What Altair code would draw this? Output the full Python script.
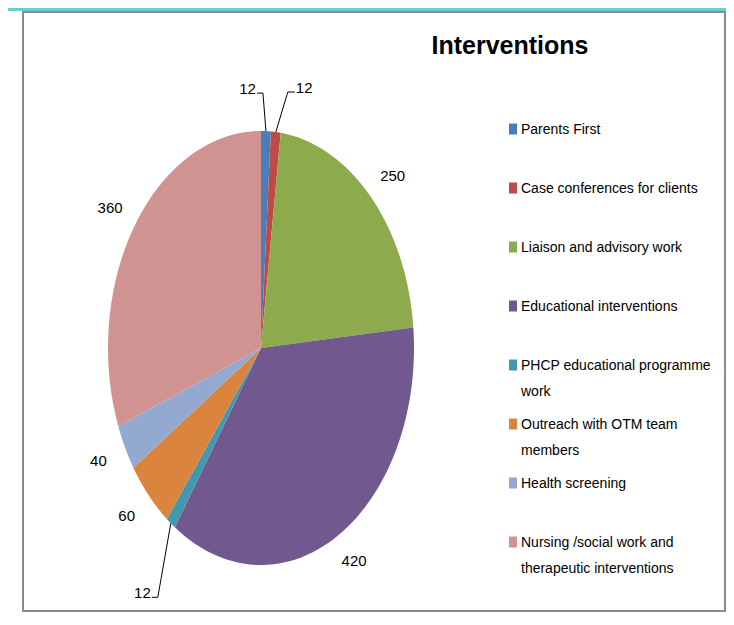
import altair as alt
import pandas as pd

# ---------------- data ----------------
categories = [
    "Parents First",
    "Case conferences for clients",
    "Liaison and advisory work",
    "Educational interventions",
    "PHCP educational programme work",
    "Outreach with OTM team members",
    "Health screening",
    "Nursing /social work and therapeutic interventions",
]
values = [12, 12, 250, 420, 12, 60, 40, 360]
legend_labels = [
    "Parents First",
    "Case conferences for clients",
    "Liaison and advisory work",
    "Educational interventions",
    "PHCP educational programme|work",
    "Outreach with OTM team|members",
    "Health screening",
    "Nursing /social work and|therapeutic interventions",
]
colors = ["#4A7EBB", "#BE4B48", "#8DAA4C", "#71588F", "#4198AF", "#DB843D", "#93A9CF", "#D19392"]

# leader-line styling for the thin slices (pixel offsets: elbow dx/dy, stub length)
leader_cats = ["Parents First", "Case conferences for clients", "PHCP educational programme work"]
leader_ex = [-3, 12, -13]
leader_ey = [-38, -40, 74]
leader_sx = [-6, 7, -6]

# ---------------- layout ----------------
W, H = 718, 605
CX, CY, RX, RY = 253, 340, 153, 217
LABEL_GAP = 30
FONT = "Liberation Sans, Arial, sans-serif"
FS = 15
LEG_FS = 14

df = pd.DataFrame({"idx": list(range(len(categories))), "category": categories,
                   "value": values, "label": legend_labels})
nudge = pd.DataFrame({"category": leader_cats, "ex": leader_ex, "ey": leader_ey, "sx": leader_sx})

xs = alt.Scale(domain=[-1, 1], range=[CX - RX, CX + RX], nice=False, zero=False)
ys = alt.Scale(domain=[-1, 1], range=[CY + RY, CY - RY], nice=False, zero=False)
cscale = alt.Scale(domain=categories, range=colors)


def angles(ch):
    return (ch.transform_window(cum="sum(value)", sort=[alt.SortField("idx")])
              .transform_joinaggregate(total="sum(value)")
              .transform_calculate(a0="2*PI*(datum.cum-datum.value)/datum.total",
                                   a1="2*PI*datum.cum/datum.total")
              .transform_calculate(mid="(datum.a0+datum.a1)/2"))


pie = (angles(alt.Chart(df))
       .transform_calculate(steps="sequence(0, 62)")
       .transform_flatten(["steps"])
       .transform_calculate(ang="datum.a0 + (datum.a1-datum.a0)*max(datum.steps-1,0)/60")
       .transform_calculate(px="datum.steps==0 ? 0 : sin(datum.ang)",
                            py="datum.steps==0 ? 0 : cos(datum.ang)")
       .mark_line(strokeWidth=0, interpolate="linear")
       .encode(x=alt.X("px:Q", scale=xs, axis=None),
               y=alt.Y("py:Q", scale=ys, axis=None),
               fill=alt.Fill("category:N", scale=cscale, legend=None),
               order=alt.Order("steps:Q"),
               detail="category:N"))

withnudge = angles(alt.Chart(df)).transform_lookup(
    lookup="category", from_=alt.LookupData(nudge, "category", ["ex", "ey", "sx"]))

big_labels = (withnudge.transform_filter("!isValid(datum.ex)")
              .transform_calculate(lx=f"sin(datum.mid)*(1+{LABEL_GAP}/{RX})",
                                   ly=f"cos(datum.mid)*(1+{LABEL_GAP}/{RY})")
              .mark_text(font=FONT, fontSize=FS, color="#000000", baseline="middle")
              .encode(x=alt.X("lx:Q", scale=xs, axis=None),
                      y=alt.Y("ly:Q", scale=ys, axis=None),
                      text="value:Q"))

leaders = (withnudge.transform_filter("isValid(datum.ex)")
           .transform_calculate(pts="sequence(0, 3)")
           .transform_flatten(["pts"])
           .transform_calculate(
               lx=f"sin(datum.mid) + ((datum.pts>0 ? datum.ex : 0) + (datum.pts==2 ? datum.sx : 0))/{RX}",
               ly=f"cos(datum.mid) - (datum.pts>0 ? datum.ey : 0)/{RY}")
           .mark_line(color="#000000", strokeWidth=1)
           .encode(x=alt.X("lx:Q", scale=xs, axis=None),
                   y=alt.Y("ly:Q", scale=ys, axis=None),
                   order=alt.Order("pts:Q"),
                   detail="category:N"))

small = (withnudge.transform_filter("isValid(datum.ex)")
         .transform_calculate(
             tx=f"sin(datum.mid) + (datum.ex + datum.sx + (datum.sx<0 ? -1 : 1))/{RX}",
             ty=f"cos(datum.mid) - datum.ey/{RY}"))
small_enc = dict(x=alt.X("tx:Q", scale=xs, axis=None),
                 y=alt.Y("ty:Q", scale=ys, axis=None),
                 text="value:Q")
small_left = small.transform_filter("datum.sx > 0").mark_text(
    font=FONT, fontSize=FS, color="#000000", align="left", baseline="alphabetic", dy=1).encode(**small_enc)
small_right = small.transform_filter("datum.sx < 0").mark_text(
    font=FONT, fontSize=FS, color="#000000", align="right", baseline="alphabetic", dy=1).encode(**small_enc)

leg_y = alt.Y("idx:Q", scale=alt.Scale(domain=[0, 7], range=[121, 534], nice=False, zero=False), axis=None)
leg_sq = (alt.Chart(df)
          .mark_point(shape="M-0.727,-1L0.727,-1L0.727,1L-0.727,1Z", filled=True, size=121, opacity=1)
          .encode(x=alt.value(505), y=leg_y, color=alt.Color("category:N", scale=cscale, legend=None)))
leg_tx = (alt.Chart(df)
          .transform_calculate(lines="split(datum.label, '|')")
          .mark_text(align="left", baseline="alphabetic", dy=5, lineHeight=26,
                     font=FONT, fontSize=LEG_FS, color="#000000")
          .encode(x=alt.value(513), y=leg_y, text="lines:N"))

one = pd.DataFrame({"t": ["Interventions"]})
title = (alt.Chart(one)
         .mark_text(font=FONT, fontSize=25, fontWeight="bold", color="#000000")
         .encode(x=alt.value(502), y=alt.value(38), text="t:N"))
teal = (alt.Chart(one).mark_rect(color="#6CCDCB")
        .encode(x=alt.value(0), x2=alt.value(W), y=alt.value(0), y2=alt.value(3)))
frame = (alt.Chart(one).mark_rect(filled=False, stroke="#8C8C8C", strokeWidth=2)
         .encode(x=alt.value(15), x2=alt.value(W - 1), y=alt.value(4), y2=alt.value(H - 2)))

chart = (alt.layer(frame, teal, pie, big_labels, leaders, small_left, small_right, leg_sq, leg_tx, title)
         .resolve_scale(y="independent")
         .properties(width=W, height=H, padding=0, autosize=alt.AutoSizeParams(type="none"),
                     background="#FFFFFF")
         .configure_view(stroke=None))

chart.save("out.html", embed_options={"renderer": "svg", "actions": False})
